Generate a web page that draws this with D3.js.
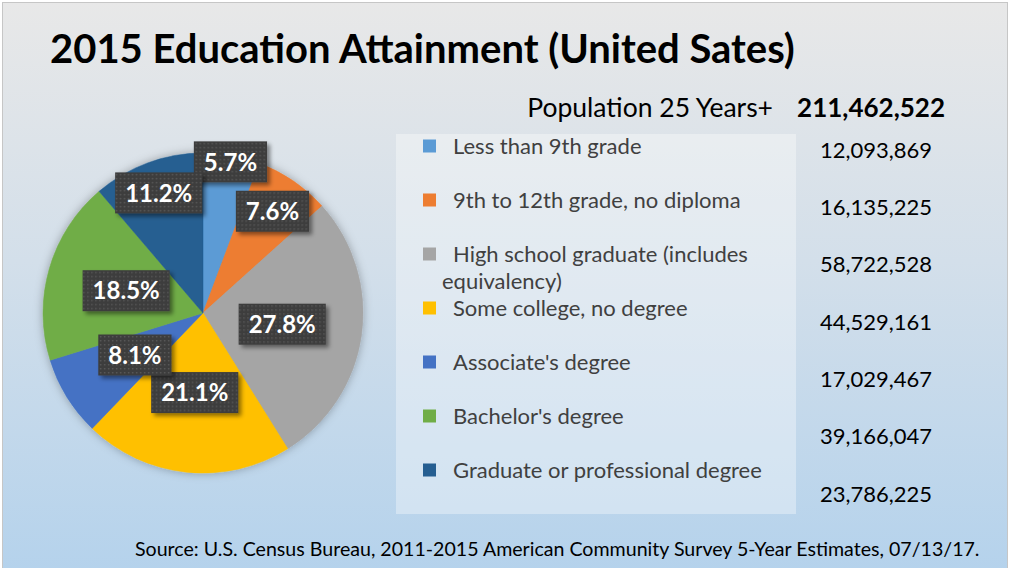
<!DOCTYPE html>
<html>
<head>
<meta charset="utf-8">
<title>2015 Education Attainment</title>
<script src="https://cdn.jsdelivr.net/npm/d3@7"></script>
<style>
  body { margin: 0; background: #fff; }
  text { font-family: Lato, "Open Sans", sans-serif; }
</style>
</head>
<body>
<svg width="1018" height="568" id="mainsvg"></svg>
<script>
// data
const categories = [
  "Less than 9th grade",
  "9th to 12th grade, no diploma",
  "High school graduate (includes equivalency)",
  "Some college, no degree",
  "Associate's degree",
  "Bachelor's degree",
  "Graduate or professional degree"
];
const population = [12093869, 16135225, 58722528, 44529161, 17029467, 39166047, 23786225];
const totalPopulation = 211462522;
const colors = ["#5B9BD5", "#ED7D31", "#A5A5A5", "#FFC000", "#4472C4", "#70AD47", "#255E91"];

const titleText = "2015 Education Attainment (United Sates)";
const totalLabel = "Population 25 Years+";
const sourceText = "Source:  U.S. Census Bureau, 2011-2015 American Community Survey 5-Year Estimates, 07/13/17.";

// layout
const svg = d3.select('svg');
const width = +svg.attr('width');
const height = +svg.attr('height');
const cx = 203, cy = 313, radius = 160;
// Excel "best fit" pushes labels of the small top slices outward
const labelRadiusFactor = [0.96, 0.77, 0.5, 0.5, 0.5, 0.5, 0.8];

const defs = svg.append('defs');
const bg = defs.append('linearGradient').attr('id', 'bg')
  .attr('x1', 0).attr('y1', 0).attr('x2', 0).attr('y2', 1);
bg.append('stop').attr('offset', '0%').attr('stop-color', '#e8e8e8');
bg.append('stop').attr('offset', '45%').attr('stop-color', '#d3dfea');
bg.append('stop').attr('offset', '100%').attr('stop-color', '#b4d2ec');

const dots = defs.append('pattern').attr('id', 'dots')
  .attr('width', 4).attr('height', 4).attr('patternUnits', 'userSpaceOnUse');
dots.append('rect').attr('width', 4).attr('height', 4).attr('fill', '#3d3d3d');
dots.append('rect').attr('x', 1).attr('y', 1).attr('width', 1.5).attr('height', 1.5).attr('fill', '#575757');

const shadow = defs.append('filter').attr('id', 'shadow')
  .attr('x', '-20%').attr('y', '-20%').attr('width', '150%').attr('height', '160%');
shadow.append('feDropShadow').attr('dx', 3).attr('dy', 3).attr('stdDeviation', 2)
  .attr('flood-color', '#000').attr('flood-opacity', 0.45);

const pieShadow = defs.append('filter').attr('id', 'pieShadow')
  .attr('x', '-20%').attr('y', '-20%').attr('width', '140%').attr('height', '140%');
pieShadow.append('feDropShadow').attr('dx', 0).attr('dy', 0).attr('stdDeviation', 5)
  .attr('flood-color', '#000').attr('flood-opacity', 0.3);

// chart area
svg.append('rect').attr('x', 2.5).attr('y', 2.5).attr('width', 1005).attr('height', 575)
  .attr('fill', 'url(#bg)').attr('stroke', '#c6c6c6').attr('stroke-width', 1);

// scales the text to a target width
function fitWidth(sel, target) {
  const w = sel.node().getComputedTextLength();
  const fs = parseFloat(sel.attr('font-size'));
  sel.attr('font-size', fs * target / w);
}

const title = svg.append('text').attr('x', 50).attr('y', 63)
  .attr('font-size', 36).attr('font-weight', 'bold').attr('fill', '#000')
  .text(titleText);
fitWidth(title, 745);

// pie
const pie = d3.pie().sort(null).value(d => d)(population);
const arc = d3.arc().innerRadius(0).outerRadius(radius);
const pieGroup = svg.append('g').attr('transform', `translate(${cx}, ${cy})`);
pieGroup.append('g').attr('filter', 'url(#pieShadow)')
  .selectAll('path').data(pie).join('path')
  .attr('d', arc)
  .attr('fill', (d, i) => colors[i])
  .attr('stroke', (d, i) => colors[i]).attr('stroke-width', 0.5);

const fmtPct = d3.format('.1%');
const labels = pieGroup.selectAll('g.lbl').data(pie).join('g').attr('class', 'lbl')
  .attr('transform', (d, i) => {
    const r = radius * labelRadiusFactor[i];
    const [x, y] = d3.arc().innerRadius(r).outerRadius(r).centroid(d);
    return `translate(${x}, ${y})`;
  });
labels.each(function (d) {
  const g = d3.select(this);
  const rect = g.append('rect').attr('fill', 'url(#dots)').attr('filter', 'url(#shadow)');
  const t = g.append('text').attr('text-anchor', 'middle').attr('dy', '0.36em')
    .attr('font-size', 24).attr('font-weight', 'bold').attr('fill', '#fff')
    .text(fmtPct(d.value / totalPopulation));
  const w = t.node().getComputedTextLength() + 20;
  rect.attr('x', -w / 2).attr('y', -20.5).attr('width', w).attr('height', 41);
});

// legend box
svg.append('rect').attr('x', 396).attr('y', 134).attr('width', 400).attr('height', 380)
  .attr('fill', '#ffffff').attr('fill-opacity', 0.35);

const legendY = d3.scaleLinear().domain([0, 6]).range([146, 470]);
const valueY = d3.scaleLinear().domain([0, 6]).range([150, 494]);

const legend = svg.append('g').selectAll('g').data(categories).join('g');
legend.append('rect')
  .attr('x', 423).attr('y', (d, i) => legendY(i) - 6.5)
  .attr('width', 13).attr('height', 13)
  .attr('fill', (d, i) => colors[i]);
legend.each(function (d, i) {
  const g = d3.select(this);
  const t = g.append('text').attr('x', 453).attr('y', legendY(i)).attr('dy', '0.35em')
    .attr('font-size', 22).attr('fill', '#404040').text(d);
  if (t.node().getComputedTextLength() > 330) {
    const words = d.split(' ');
    let line = [];
    let rest = [];
    t.text('');
    for (const w of words) {
      t.text([...line, w].join(' '));
      if (rest.length || t.node().getComputedTextLength() > 330) rest.push(w);
      else line.push(w);
    }
    t.text(line.join(' '));
    g.append('text').attr('x', 442).attr('y', legendY(i) + 27).attr('dy', '0.35em')
      .attr('font-size', 22).attr('fill', '#404040').text(rest.join(' '));
  }
});

const fmtNum = d3.format(',');
svg.append('g').selectAll('text').data(population).join('text')
  .attr('x', 932).attr('y', (d, i) => valueY(i)).attr('dy', '0.35em')
  .attr('text-anchor', 'end').attr('font-size', 22).attr('fill', '#000')
  .text(d => fmtNum(d));

svg.append('text').attr('x', 773).attr('y', 108).attr('dy', '0.35em')
  .attr('text-anchor', 'end').attr('font-size', 26.5).attr('fill', '#000')
  .text(totalLabel);
svg.append('text').attr('x', 945).attr('y', 108).attr('dy', '0.35em')
  .attr('text-anchor', 'end').attr('font-size', 26).attr('font-weight', 'bold').attr('fill', '#000')
  .text(fmtNum(totalPopulation));

const source = svg.append('text').attr('x', 135).attr('y', 549).attr('dy', '0.35em')
  .attr('font-size', 17).attr('fill', '#000').text(sourceText);
fitWidth(source, 845);
</script>
</body>
</html>
